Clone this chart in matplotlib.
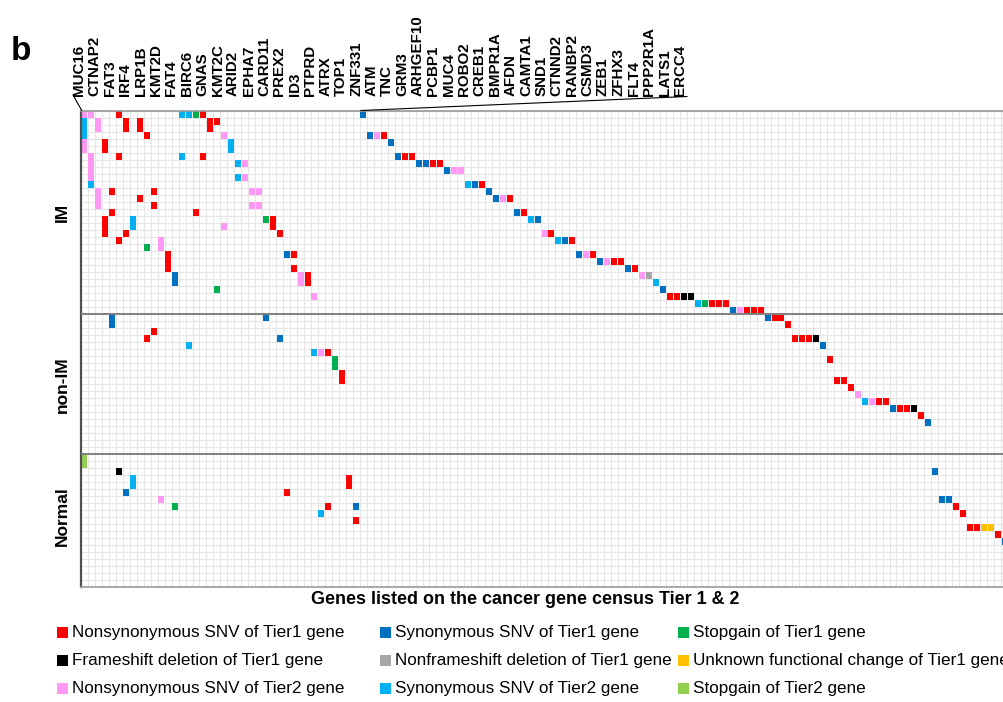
import matplotlib
matplotlib.use('Agg')
import matplotlib.pyplot as plt
import numpy as np
from matplotlib.patches import Rectangle
from matplotlib.lines import Line2D
from matplotlib import font_manager

W, H = 1004, 702

# genes of the first (recurrently mutated) block of columns
genes = ['MUC16', 'CTNAP2', 'FAT3', 'IRF4', 'LRP1B', 'KMT2D', 'FAT4', 'BIRC6',
         'GNAS', 'KMT2C', 'ARID2', 'EPHA7', 'CARD11', 'PREX2', 'ID3', 'PTPRD',
         'ATRX', 'TOP1', 'ZNF331', 'ATM', 'TNC', 'GRM3', 'ARHGEF10', 'PCBP1',
         'MUC4', 'ROBO2', 'CREB1', 'BMPR1A', 'AFDN', 'CAMTA1', 'SND1', 'CTNND2',
         'RANBP2', 'CSMD3', 'ZEB1', 'ZFHX3', 'FLT4', 'PPP2R1A', 'LATS1', 'ERCC4']

groups = ['IM', 'non-IM', 'Normal']
group_sizes = [29, 20, 19]

mut_keys = ['ns1', 'syn1', 'stop1', 'fs1', 'nfs1', 'unk1', 'ns2', 'syn2', 'stop2']
mut_labels = ['Nonsynonymous SNV of Tier1 gene', 'Synonymous SNV of Tier1 gene',
              'Stopgain of Tier1 gene', 'Frameshift deletion of Tier1 gene',
              'Nonframeshift deletion of Tier1 gene',
              'Unknown functional change of Tier1 gene',
              'Nonsynonymous SNV of Tier2 gene', 'Synonymous SNV of Tier2 gene',
              'Stopgain of Tier2 gene']
mut_colors = ['#ff0000', '#0070c0', '#00b050', '#000000', '#a6a6a6', '#ffc000',
              '#ff99f5', '#00b0f0', '#92d050']

# (sample within group, gene column, mutation type)
im_cells = [
    (0, 0, 'ns2'), (0, 1, 'ns2'), (0, 5, 'ns1'), (0, 14, 'syn2'), (0, 15, 'syn2'),
    (0, 16, 'stop1'), (0, 17, 'ns1'), (0, 40, 'syn1'),
    (1, 0, 'syn2'), (1, 2, 'ns2'), (1, 6, 'ns1'), (1, 8, 'ns1'), (1, 18, 'ns1'), (1, 19, 'ns1'),
    (2, 0, 'syn2'), (2, 2, 'ns2'), (2, 6, 'ns1'), (2, 8, 'ns1'), (2, 18, 'ns1'),
    (3, 0, 'syn2'), (3, 9, 'ns1'), (3, 20, 'ns2'), (3, 41, 'syn1'), (3, 42, 'ns2'), (3, 43, 'ns1'),
    (4, 0, 'ns2'), (4, 3, 'ns1'), (4, 21, 'syn2'), (4, 44, 'syn1'),
    (5, 0, 'ns2'), (5, 3, 'ns1'), (5, 21, 'syn2'),
    (6, 1, 'ns2'), (6, 5, 'ns1'), (6, 14, 'syn2'), (6, 17, 'ns1'), (6, 45, 'syn1'),
    (6, 46, 'ns1'), (6, 47, 'ns1'),
    (7, 1, 'ns2'), (7, 22, 'syn2'), (7, 23, 'ns2'), (7, 48, 'syn1'), (7, 49, 'syn1'),
    (7, 50, 'ns1'), (7, 51, 'ns1'),
    (8, 1, 'ns2'), (8, 52, 'syn1'), (8, 53, 'ns2'), (8, 54, 'ns2'),
    (9, 1, 'ns2'), (9, 22, 'syn2'), (9, 23, 'ns2'),
    (10, 1, 'syn2'), (10, 55, 'syn2'), (10, 56, 'syn1'), (10, 57, 'ns1'),
    (11, 2, 'ns2'), (11, 4, 'ns1'), (11, 10, 'ns1'), (11, 24, 'ns2'), (11, 25, 'ns2'), (11, 58, 'syn1'),
    (12, 2, 'ns2'), (12, 8, 'ns1'), (12, 59, 'syn1'), (12, 60, 'ns2'), (12, 61, 'ns1'),
    (13, 2, 'ns2'), (13, 10, 'ns1'), (13, 24, 'ns2'), (13, 25, 'ns2'),
    (14, 4, 'ns1'), (14, 16, 'ns1'), (14, 62, 'syn1'), (14, 63, 'ns1'),
    (15, 3, 'ns1'), (15, 7, 'syn2'), (15, 26, 'stop1'), (15, 27, 'ns1'), (15, 64, 'syn2'), (15, 65, 'syn1'),
    (16, 3, 'ns1'), (16, 7, 'syn2'), (16, 20, 'ns2'), (16, 27, 'ns1'),
    (17, 3, 'ns1'), (17, 6, 'ns1'), (17, 28, 'ns1'), (17, 66, 'ns2'), (17, 67, 'ns1'),
    (18, 5, 'ns1'), (18, 11, 'ns2'), (18, 68, 'syn2'), (18, 69, 'syn1'), (18, 70, 'ns1'),
    (19, 9, 'stop1'), (19, 11, 'ns2'),
    (20, 12, 'ns1'), (20, 29, 'syn1'), (20, 30, 'ns1'), (20, 71, 'syn1'), (20, 72, 'ns2'), (20, 73, 'ns1'),
    (21, 12, 'ns1'), (21, 74, 'syn1'), (21, 75, 'ns2'), (21, 76, 'ns1'), (21, 77, 'ns1'),
    (22, 12, 'ns1'), (22, 30, 'ns1'), (22, 78, 'syn1'), (22, 79, 'ns1'),
    (23, 13, 'syn1'), (23, 31, 'ns2'), (23, 32, 'ns1'), (23, 80, 'ns2'), (23, 81, 'nfs1'),
    (24, 13, 'syn1'), (24, 31, 'ns2'), (24, 32, 'ns1'), (24, 82, 'syn2'),
    (25, 19, 'stop1'), (25, 83, 'syn1'),
    (26, 33, 'ns2'), (26, 84, 'ns1'), (26, 85, 'ns1'), (26, 86, 'fs1'), (26, 87, 'fs1'),
    (27, 88, 'syn2'), (27, 89, 'stop1'), (27, 90, 'ns1'), (27, 91, 'ns1'), (27, 92, 'ns1'),
    (28, 93, 'syn1'), (28, 94, 'ns2'), (28, 95, 'ns1'), (28, 96, 'ns1'), (28, 97, 'ns1'),
]

nonim_cells = [
    (0, 4, 'syn1'), (0, 26, 'syn1'), (0, 98, 'syn1'), (0, 99, 'ns1'), (0, 100, 'ns1'),
    (1, 4, 'syn1'), (1, 101, 'ns1'),
    (2, 10, 'ns1'),
    (3, 9, 'ns1'), (3, 28, 'syn1'), (3, 102, 'ns1'), (3, 103, 'ns1'), (3, 104, 'ns1'), (3, 105, 'fs1'),
    (4, 15, 'syn2'), (4, 106, 'syn1'),
    (5, 33, 'syn2'), (5, 34, 'ns2'), (5, 35, 'ns1'),
    (6, 36, 'stop1'), (6, 107, 'ns1'),
    (7, 36, 'stop1'),
    (8, 37, 'ns1'),
    (9, 37, 'ns1'), (9, 108, 'ns1'), (9, 109, 'ns1'),
    (10, 110, 'ns1'),
    (11, 111, 'ns2'),
    (12, 112, 'syn2'), (12, 113, 'ns2'), (12, 114, 'ns1'), (12, 115, 'ns1'),
    (13, 116, 'syn1'), (13, 117, 'ns1'), (13, 118, 'ns1'), (13, 119, 'fs1'),
    (14, 120, 'ns1'),
    (15, 121, 'syn1'),
]

normal_cells = [
    (0, 0, 'stop2'),
    (1, 0, 'stop2'),
    (2, 5, 'fs1'), (2, 122, 'syn1'),
    (3, 7, 'syn2'), (3, 38, 'ns1'),
    (4, 7, 'syn2'), (4, 38, 'ns1'),
    (5, 6, 'syn1'), (5, 29, 'ns1'),
    (6, 11, 'ns2'), (6, 123, 'syn1'), (6, 124, 'syn1'),
    (7, 13, 'stop1'), (7, 35, 'ns1'), (7, 39, 'syn1'), (7, 125, 'ns1'),
    (8, 34, 'syn2'), (8, 126, 'ns1'),
    (9, 39, 'ns1'),
    (10, 127, 'ns1'), (10, 128, 'ns1'), (10, 129, 'unk1'), (10, 130, 'unk1'),
    (11, 131, 'ns1'),
    (12, 132, 'syn1'),
]

font_names = {f.name for f in font_manager.fontManager.ttflist}
narrow = 'Liberation Sans Narrow' if 'Liberation Sans Narrow' in font_names else 'Liberation Sans'
plt.rcParams['font.family'] = ['Liberation Sans', 'DejaVu Sans']


def px(x, y):
    return x / W, 1 - y / H


def fit_width(txt, target, vertical=False):
    r = fig.canvas.get_renderer()
    bb = txt.get_window_extent(r)
    size = bb.height if vertical else bb.width
    txt.set_fontsize(txt.get_fontsize() * target / size)


fig = plt.figure(figsize=(W / 100, H / 100), dpi=100)
cell_w = 6.97
ax = fig.add_axes([81 / W, 1 - 587 / H, (W - 81) / W, 476 / H])
n_rows = sum(group_sizes)
ax.set_xlim(0, (W - 81) / cell_w)
ax.set_ylim(n_rows, 0)

# light grid of samples x genes
ax.vlines(np.arange(0, 134), 0, n_rows, color='#e6e6e6', lw=0.8, zorder=0)
ax.hlines(np.arange(0, n_rows), 0, 134, color='#e6e6e6', lw=0.8, zorder=0)
offsets = np.cumsum([0] + group_sizes)
ax.hlines(offsets[1:-1], 0, 134, color='#808080', lw=1.4, zorder=3)

pad = 0.07
color_of = dict(zip(mut_keys, mut_colors))
for off, cells in zip(offsets[:-1], [im_cells, nonim_cells, normal_cells]):
    for s, g, k in cells:
        ax.add_patch(Rectangle((g + pad, off + s + pad), 1 - 2 * pad, 1 - 2 * pad,
                               facecolor=color_of[k], edgecolor='none', zorder=2))

ax.set_xticks([])
ax.set_yticks([])
ax.spines['right'].set_visible(False)
ax.spines['left'].set_color('#505050')
ax.spines['left'].set_linewidth(1.6)
for sp in ['top', 'bottom']:
    ax.spines[sp].set_color('#9a9a9a')
    ax.spines[sp].set_linewidth(1.2)

# gene names, spread out above the first block
lab_x = np.linspace(79, 680, len(genes))
gene_txt = []
for x, g in zip(lab_x, genes):
    t = fig.text(*px(x, 96), g, rotation=90, ha='center', va='bottom',
                 fontsize=11.5, fontweight='bold')
    gene_txt.append(t)
ref = gene_txt[genes.index('ARHGEF10')]
fit_width(ref, 81, vertical=True)
for t in gene_txt:
    t.set_fontsize(ref.get_fontsize())
fig.add_artist(Line2D([73 / W, 81.5 / W], [1 - 95 / H, 1 - 110 / H], color='black', lw=0.8))
fig.add_artist(Line2D([687 / W, 361 / W], [1 - 96.5 / H, 1 - 110.5 / H], color='black', lw=0.8))

# group labels
for name, c in zip(groups, [212, 385, 516]):
    fig.text(*px(62, c), name, rotation=90, ha='center', va='center',
             fontsize=12.5, fontweight='bold')

fig.text(*px(21, 52), 'b', ha='center', va='center', fontsize=24, fontweight='bold')

xl = fig.text(*px(525, 600), 'Genes listed on the cancer gene census Tier 1 & 2',
              ha='center', va='center', fontsize=12.5, fontweight='bold', family=narrow)
fit_width(xl, 427)

# legend, 3 x 3
sq_x = [57, 380, 678]
row_y = [632, 660, 688]
leg_txt = []
for i, (lab, col) in enumerate(zip(mut_labels, mut_colors)):
    r, c = divmod(i, 3)
    x0, y0 = px(sq_x[c], row_y[r] + 5.5)
    fig.add_artist(Rectangle((x0, y0), 11 / W, 11 / H, facecolor=col,
                             edgecolor='none', transform=fig.transFigure))
    t = fig.text(*px(sq_x[c] + 15, row_y[r]), lab, ha='left', va='center',
                 fontsize=12, family=narrow)
    leg_txt.append(t)
fit_width(leg_txt[0], 273)
for t in leg_txt:
    t.set_fontsize(leg_txt[0].get_fontsize())

fig.savefig('out.png', dpi=100)
